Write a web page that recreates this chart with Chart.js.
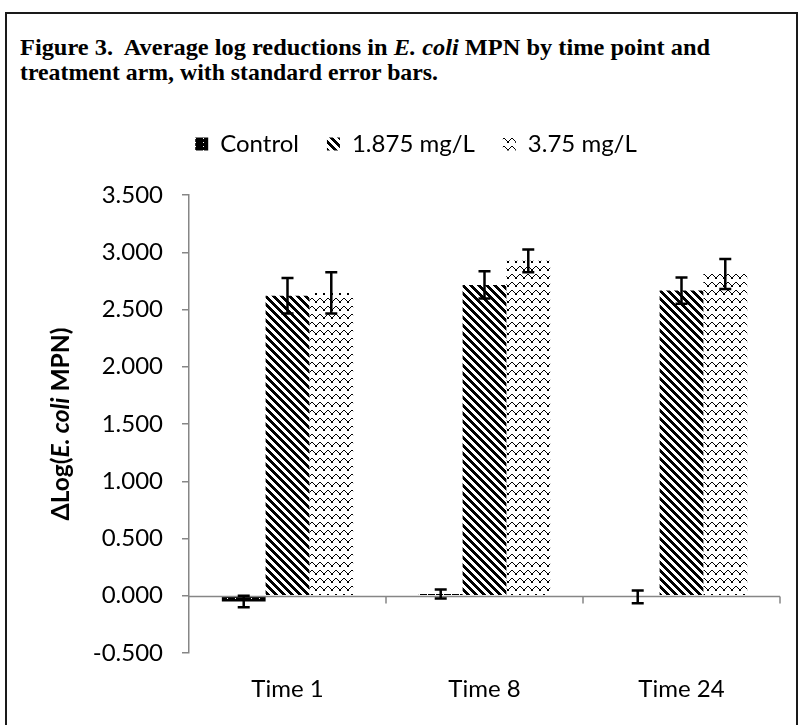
<!DOCTYPE html>
<html><head><meta charset="utf-8">
<script src="https://cdn.jsdelivr.net/npm/chart.js@4.4.1/dist/chart.umd.min.js"></script>
<style>
html,body{margin:0;padding:0;background:#fff;}
body{width:798px;height:725px;position:relative;overflow:hidden;}
#frame{position:absolute;left:5px;top:12px;width:793px;height:820px;border:2px solid #1a1a1a;box-sizing:border-box;}
#title{position:absolute;left:20px;top:35px;font-family:"Liberation Serif",serif;font-weight:bold;font-size:23px;line-height:25px;color:#000;white-space:nowrap;}
#title .ln{display:inline-block;transform-origin:0 0;}
#wrap{position:absolute;left:0;top:0;width:798px;height:725px;}
</style></head><body>
<div id="frame"></div>
<div id="title"><span class="ln" id="l1">Figure 3.&nbsp; Average log reductions in <i>E. coli</i> MPN by time point and</span><br><span class="ln" id="l2">treatment arm, with standard error bars.</span></div>
<div id="wrap"><canvas id="c" width="798" height="725"></canvas></div>
<script>
// ---- data ----
const categories = ['Time 1', 'Time 8', 'Time 24'];
const seriesNames = ['Control', '1.875 mg/L', '3.75 mg/L'];
const controlMeans = [-0.050, 0.015, -0.010];
const controlSE    = [0.050, 0.040, 0.055];
const lowDoseMeans = [2.620, 2.715, 2.665];
const lowDoseSE    = [0.155, 0.120, 0.115];
const highDoseMeans = [2.645, 2.925, 2.810];
const highDoseSE    = [0.180, 0.100, 0.130];
const yMin = -0.5, yMax = 3.5, yStep = 0.5;

// ---- title fitting ----
function fitLine(id, target){
  const el = document.getElementById(id);
  const w = el.getBoundingClientRect().width;
  el.style.transform = 'scaleX(' + (target / w) + ')';
}
fitLine('l1', 690);
fitLine('l2', 418);

// ---- patterns ----
function makePattern(w, h, painter){
  const c = document.createElement('canvas');
  c.width = w; c.height = h;
  const g = c.getContext('2d');
  g.fillStyle = '#fff'; g.fillRect(0, 0, w, h);
  g.fillStyle = '#000';
  painter(g, w, h);
  return document.getElementById('c').getContext('2d').createPattern(c, 'repeat');
}
const patControl = makePattern(8, 4, (g, w, h) => {
  g.fillRect(0, 0, w, h);
  g.fillStyle = '#fff';
  g.fillRect(3, 2, 1, 1);
});
const patStripes = makePattern(8, 8, (g, w, h) => {
  for (let y = 0; y < h; y++) for (let x = 0; x < w; x++) {
    if (((x - y) % 8 + 8) % 8 < 4) g.fillRect(x, y, 1, 1);
  }
});
const patZigzag = makePattern(8, 8, (g, w, h) => {
  const ys = [0, 1, 2, 3, 3, 2, 1, 0];
  for (let x = 0; x < w; x++) g.fillRect(x, 2 + ys[x], 1, 1);
  g.fillRect(3, 6, 2, 1);
});

// ---- plugins ----
const AXIS_COLOR = '#868686';
const zeroAxisPlugin = {
  id: 'zeroAxis',
  afterDatasetsDraw(chart) {
    const {ctx, chartArea, scales} = chart;
    const y0 = Math.round(scales.y.getPixelForValue(0)) + 0.5;
    ctx.save();
    ctx.strokeStyle = AXIS_COLOR; ctx.lineWidth = 1.5;
    ctx.beginPath();
    ctx.moveTo(chartArea.left, y0); ctx.lineTo(chartArea.right, y0);
    const n = categories.length;
    for (let i = 1; i <= n; i++) {
      const x = chartArea.left + (chartArea.right - chartArea.left) * i / n;
      ctx.moveTo(x, y0); ctx.lineTo(x, y0 + 7);
    }
    ctx.stroke();
    ctx.restore();
  }
};
const errorBarPlugin = {
  id: 'errorBars',
  afterDatasetsDraw(chart) {
    const {ctx, scales} = chart;
    ctx.save();
    ctx.strokeStyle = '#000'; ctx.lineWidth = 2.5;
    chart.data.datasets.forEach((ds, di) => {
      const meta = chart.getDatasetMeta(di);
      meta.data.forEach((bar, i) => {
        const v = ds.data[i], e = ds.errors[i];
        const yt = scales.y.getPixelForValue(v + e), yb = scales.y.getPixelForValue(v - e);
        ctx.beginPath();
        ctx.moveTo(bar.x, yt); ctx.lineTo(bar.x, yb);
        ctx.moveTo(bar.x - 6, yt); ctx.lineTo(bar.x + 6, yt);
        ctx.moveTo(bar.x - 6, yb); ctx.lineTo(bar.x + 6, yb);
        ctx.stroke();
      });
    });
    ctx.restore();
  }
};
const Y_TITLE_LENGTH = 193;
const yTitlePlugin = {
  id: 'yTitle',
  afterDraw(chart) {
    const {ctx, chartArea} = chart;
    const texts = ['\u0394Log(', 'E. coli', ' MPN)'];
    const styles = ['bold', 'italic bold', 'bold'];
    const measure = (size) => {
      let t = 0;
      texts.forEach((s, i) => { ctx.font = styles[i] + ' ' + size + 'px Lato'; t += ctx.measureText(s).width; });
      return t;
    };
    const size = 20 * Y_TITLE_LENGTH / measure(20);
    const total = measure(size);
    ctx.save();
    ctx.translate(61, (chartArea.top + chartArea.bottom) / 2);
    ctx.rotate(-Math.PI / 2);
    ctx.fillStyle = '#000'; ctx.textBaseline = 'middle'; ctx.textAlign = 'left';
    let x = -total / 2;
    texts.forEach((s, i) => {
      ctx.font = styles[i] + ' ' + size + 'px Lato';
      ctx.fillText(s, x, 0);
      x += ctx.measureText(s).width;
    });
    ctx.restore();
  }
};
const LEGEND_CENTER_X = 416;
const legendShiftPlugin = {
  id: 'legendShift',
  afterLayout(chart) {
    const lg = chart.legend;
    const shift = LEGEND_CENTER_X - (lg.left + lg.right) / 2;
    lg.left += shift; lg.right += shift;
  }
};

new Chart(document.getElementById('c'), {
  type: 'bar',
  data: {
    labels: categories,
    datasets: [
      {label: seriesNames[0], data: controlMeans, errors: controlSE, backgroundColor: patControl},
      {label: seriesNames[1], data: lowDoseMeans, errors: lowDoseSE, backgroundColor: patStripes},
      {label: seriesNames[2], data: highDoseMeans, errors: highDoseSE, backgroundColor: patZigzag}
    ]
  },
  options: {
    responsive: false,
    animation: false,
    devicePixelRatio: 1,
    layout: {padding: {top: 104, left: 0, right: 18, bottom: 0}},
    datasets: {bar: {categoryPercentage: 3 / 4.5, barPercentage: 1, borderWidth: 0}},
    plugins: {
      legend: {
        display: true, position: 'top',
        labels: {font: {family: 'Lato', size: 24}, color: '#000', boxWidth: 13, boxHeight: 13, padding: 28}
      },
      subtitle: {
        display: true, text: '', position: 'top', weight: 500,
        font: {size: 10, lineHeight: 1}, padding: {top: 19, bottom: 0}
      },
      tooltip: {enabled: false},
      title: {display: false}
    },
    scales: {
      x: {
        grid: {display: false, drawTicks: false},
        border: {display: false},
        ticks: {font: {family: 'Lato', size: 24}, color: '#000', padding: 22},
        afterFit(s) { s.height = 72; }
      },
      y: {
        min: yMin, max: yMax,
        grid: {display: true, drawOnChartArea: false, drawTicks: true, tickLength: 7, color: AXIS_COLOR, lineWidth: 1.5},
        border: {display: true, color: AXIS_COLOR, width: 1.5},
        ticks: {stepSize: yStep, font: {family: 'Lato', size: 24}, color: '#000', padding: 19,
                callback: v => Number(v).toFixed(3)},
        afterFit(s) { s.width = 189; }
      }
    }
  },
  plugins: [zeroAxisPlugin, errorBarPlugin, yTitlePlugin, legendShiftPlugin]
});
</script>
</body></html>
